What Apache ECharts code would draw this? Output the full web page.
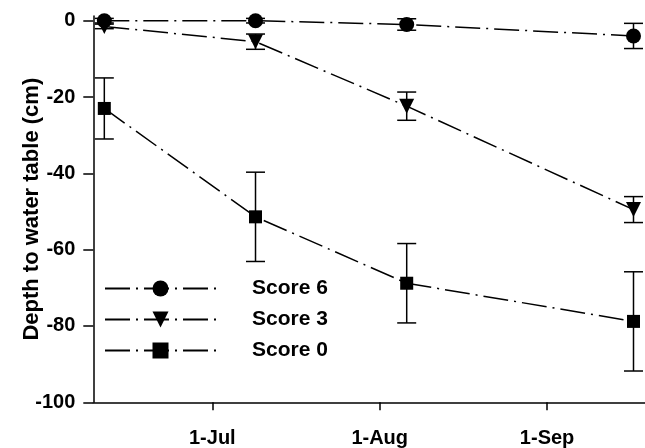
<!DOCTYPE html>
<html>
<head>
<meta charset="utf-8">
<script src="https://cdn.jsdelivr.net/npm/echarts@6/dist/echarts.min.js"></script>
<style>html,body{margin:0;padding:0;background:#fff}#c{width:645px;height:448px}</style>
</head>
<body>
<div id="c"></div>
<script>
// sampling dates
const dates = ['2000-06-11', '2000-07-09', '2000-08-06', '2000-09-17'];
// series names
const names = ['Score 6', 'Score 3', 'Score 0'];
// mean depth to water table (cm)
const score6 = [0, 0, -1, -4];
const score3 = [-1.5, -5.5, -22.4, -49.5];
const score0 = [-23, -51.4, -68.8, -78.8];
// standard errors (cm)
const score6Err = [0.6, 0.6, 1.5, 3.3];
const score3Err = [0.6, 2.0, 3.7, 3.4];
const score0Err = [8.0, 11.7, 10.4, 13.0];
// x tick labels (first of month)
const xTickDates = ['2000-07-01', '2000-08-01', '2000-09-01'];
const xTickLabels = ['1-Jul', '1-Aug', '1-Sep'];
// y tick labels
const yTicks = [-100, -80, -60, -40, -20, 0];

const DAY = 86400000;
const toDay = s => Date.parse(s + 'T00:00:00Z') / DAY;
const xs = dates.map(toDay);
const xTicks = xTickDates.map(toDay);
const jul1 = xTicks[0];

const FONT = '"Liberation Sans", Arial, sans-serif';
const dash = [25, 6, 2, 6];

function lineSeries(name, vals, symbol, size, rotate) {
  return {
    name, type: 'line', data: vals.map((v, i) => [xs[i], v]),
    symbol, symbolSize: size, symbolRotate: rotate || 0,
    lineStyle: { color: '#000', width: 1.5, type: dash },
    itemStyle: { color: '#000' },
    z: 3, animation: false
  };
}
function errSeries(vals, errs) {
  return {
    type: 'custom', silent: true, z: 2, animation: false,
    data: vals.map((v, i) => [xs[i], v - errs[i], v + errs[i]]),
    renderItem: (params, api) => {
      const x = api.value(0);
      const lo = api.coord([x, api.value(1)]);
      const hi = api.coord([x, api.value(2)]);
      const w = 9.5;
      const st = { stroke: '#000', lineWidth: 1.5 };
      return {
        type: 'group', children: [
          { type: 'line', shape: { x1: lo[0], y1: lo[1], x2: hi[0], y2: hi[1] }, style: st },
          { type: 'line', shape: { x1: lo[0] - w, y1: lo[1], x2: lo[0] + w, y2: lo[1] }, style: st },
          { type: 'line', shape: { x1: hi[0] - w, y1: hi[1], x2: hi[0] + w, y2: hi[1] }, style: st }
        ]
      };
    }
  };
}

const chart = echarts.init(document.getElementById('c'), null, { renderer: 'canvas' });
chart.setOption({
  animation: false,
  grid: { left: 93.3, right: 0, top: 16.1, bottom: 45.7, containLabel: false, outerBoundsMode: 'none' },
  legend: {
    orient: 'vertical', left: 99, top: 273,
    itemWidth: 111, itemHeight: 20, itemGap: 10,
    data: names,
    textStyle: { fontFamily: FONT, fontWeight: 'bold', fontSize: 21, color: '#000', padding: [0, 0, 0, 31] }
  },
  xAxis: {
    type: 'value', min: jul1 - 22.04, max: jul1 + 80.13,
    splitLine: { show: false },
    axisLine: { onZero: false, lineStyle: { color: '#000', width: 1.5 } },
    axisTick: { customValues: xTicks, length: 8, lineStyle: { color: '#000', width: 1.5 } },
    axisLabel: {
      customValues: xTicks, margin: 26,
      formatter: v => { const i = xTicks.indexOf(v); return i >= 0 ? xTickLabels[i] : ''; },
      fontFamily: FONT, fontWeight: 'bold', fontSize: 20, color: '#000'
    }
  },
  yAxis: {
    type: 'value', min: -100, max: 1.2,
    name: 'Depth to water table (cm)', nameLocation: 'middle', nameGap: 50,
    nameMoveOverlap: false,
    nameTextStyle: { fontFamily: FONT, fontWeight: 'bold', fontSize: 22, color: '#000' },
    splitLine: { show: false },
    axisLine: { show: true, onZero: false, lineStyle: { color: '#000', width: 1.5 } },
    axisTick: { show: true, customValues: yTicks, length: 10, lineStyle: { color: '#000', width: 1.5 } },
    axisLabel: {
      customValues: yTicks, margin: 18,
      fontFamily: FONT, fontWeight: 'bold', fontSize: 20, color: '#000'
    }
  },
  series: [
    errSeries(score6, score6Err),
    errSeries(score3, score3Err),
    errSeries(score0, score0Err),
    lineSeries(names[0], score6, 'circle', 15),
    lineSeries(names[1], score3, 'triangle', 15, 180),
    lineSeries(names[2], score0, 'rect', 13)
  ]
});
</script>
</body>
</html>
